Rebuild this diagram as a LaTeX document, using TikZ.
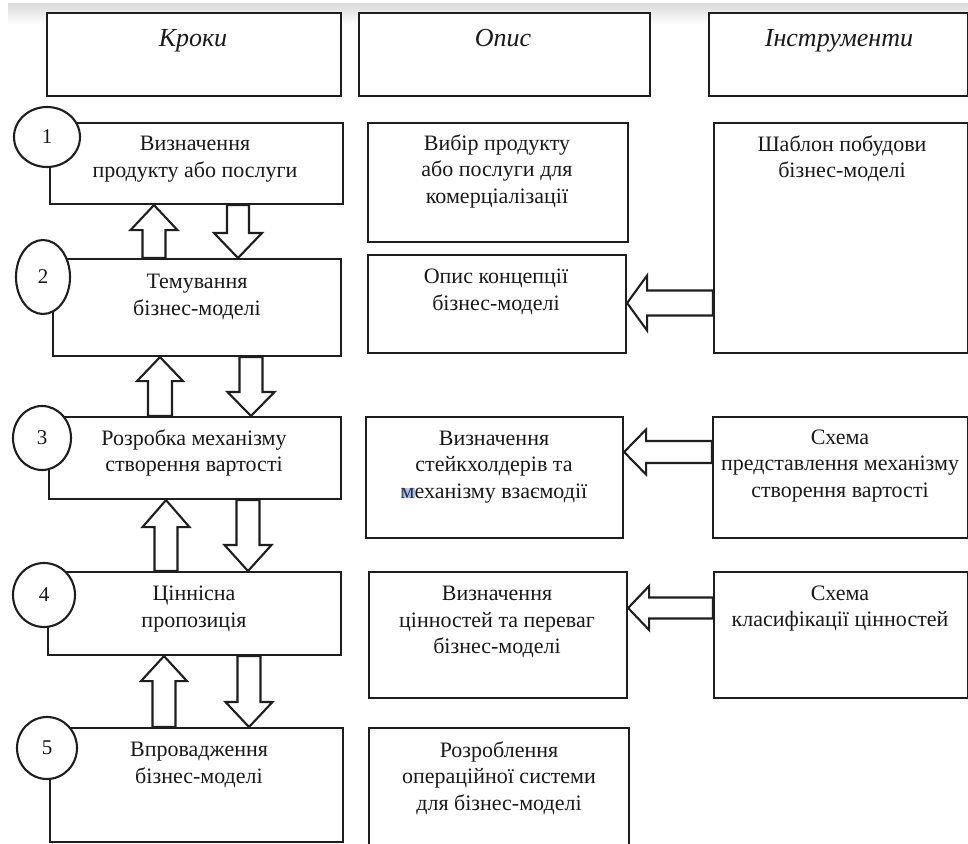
\documentclass[tikz,border=0pt]{standalone}
\usepackage{fontspec}
\setmainfont{Liberation Serif}
\usetikzlibrary{shapes.geometric,calc}
\definecolor{ln}{RGB}{30,30,30}
\definecolor{tx}{RGB}{25,25,25}
\definecolor{hlbg}{RGB}{176,196,222}
\definecolor{hlfg}{RGB}{30,50,100}
\tikzset{
 box/.style={draw=ln, line width=2.1pt, fill=white, rectangle, inner sep=0pt, anchor=north west},
 num/.style={draw=ln, line width=2.1pt, fill=white, ellipse, inner sep=0pt, font=\fontsize{21}{24}\selectfont, text=tx},
 txt/.style={align=center, inner sep=0pt, text=tx, font=\fontsize{22}{26.5}\selectfont},
 hdr/.style={inner sep=0pt, text=tx, anchor=base, font=\fontsize{26}{30}\selectfont\itshape},
 blk/.style={draw=ln, line width=2.1pt, fill=white, line join=miter},
}
\newcommand\bx[5]{\node[box, minimum width={#4-#2}, minimum height={#5-#3}] (#1) at (#2,#3) {};}
\newcommand\arrup[6]{%
 \draw[blk] let \p1=(#1.south), \p2=(#2.north) in
 ({(#3-#4)*1pt},\y2) -- ({(#3-#4)*1pt},{\y1-#6pt}) -- ({(#3-#5)*1pt},{\y1-#6pt}) -- ({#3pt},\y1) -- ({(#3+#5)*1pt},{\y1-#6pt}) -- ({(#3+#4)*1pt},{\y1-#6pt}) -- ({(#3+#4)*1pt},\y2) -- cycle;}
\newcommand\arrdn[6]{%
 \draw[blk] let \p1=(#1.south), \p2=(#2.north) in
 ({(#3-#4)*1pt},\y1) -- ({(#3-#4)*1pt},{\y2+#6pt}) -- ({(#3-#5)*1pt},{\y2+#6pt}) -- ({#3pt},\y2) -- ({(#3+#5)*1pt},{\y2+#6pt}) -- ({(#3+#4)*1pt},{\y2+#6pt}) -- ({(#3+#4)*1pt},\y1) -- cycle;}
\newcommand\arrlf[6]{%
 \draw[blk] let \p1=(#1.west), \p2=(#2.east) in
 (\x1,{-(#3-#4)*1pt}) -- ({\x2+#6pt},{-(#3-#4)*1pt}) -- ({\x2+#6pt},{-(#3-#5)*1pt}) -- (\x2,{-#3pt}) -- ({\x2+#6pt},{-(#3+#5)*1pt}) -- ({\x2+#6pt},{-(#3+#4)*1pt}) -- (\x1,{-(#3+#4)*1pt}) -- cycle;}
\newcommand\hlm{{\setlength{\fboxsep}{0pt}\colorbox{hlbg}{\textcolor{hlfg}{м}}}}
\begin{document}
\begin{tikzpicture}[x=1pt,y=-1pt]
\useasboundingbox (0,0) rectangle (968,843);
\clip (0,0) rectangle (968,843);
\fill[white] (0,0) rectangle (968,843);
\shade[top color=gray!28, bottom color=white] (8,4) rectangle (968,24);
% headers
\bx{h1}{46}{12}{340}{95}
\bx{h2}{358}{12}{649}{95}
\bx{h3}{708}{12}{967}{95}
\node[hdr] (hk) at (193,47) {Кроки};
\node[hdr] (ho) at (503,47) {Опис};
\node[hdr] (hi) at (839,47) {Інструменти};
% steps
\bx{b1}{49}{122}{342}{203}
\bx{b2}{52}{258}{340}{355}
\bx{b3}{48}{416}{340}{498}
\bx{b4}{47}{571}{340}{654}
\bx{b5}{49}{727}{342}{841}
% descriptions
\bx{m1}{367}{122}{627}{241}
\bx{m2}{367}{254}{625}{352}
\bx{m3}{365}{416}{622}{537}
\bx{m4}{368}{571}{626}{697}
\bx{m5}{368}{727}{628}{852}
% tools
\bx{r1}{713}{122}{967}{352}
\bx{r3}{712}{416}{967}{537}
\bx{r4}{713}{571}{967}{697}
% circles
\node[num, minimum width=66, minimum height=60] (c1) at (47,137) {1};
\node[num, minimum width=54, minimum height=74] (c2) at (43,277) {2};
\node[num, minimum width=58, minimum height=64] (c3) at (42,438) {3};
\node[num, minimum width=62, minimum height=64] (c4) at (44,595) {4};
\node[num, minimum width=60, minimum height=62] (c5) at (47,748) {5};
% texts
\node[txt] (t1) at (195,159) {Визначення\\продукту або послуги};
\node[txt] (t2) at (197,297) {Темування\\бізнес-моделі};
\node[txt] (t3) at (194,453) {Розробка механізму\\створення вартості};
\node[txt] (t4) at (194,609) {Ціннісна\\пропозиція};
\node[txt] (t5) at (199,765) {Впровадження\\бізнес-моделі};
\node[txt] (tm1) at (497,171) {Вибір продукту\\або послуги для\\комерціалізації};
\node[txt] (tm2) at (496,292) {Опис концепції\\бізнес-моделі};
\node[txt] (tm3) at (494,467) {Визначення\\стейкхолдерів та\\\hlm еханізму взаємодії};
\node[txt] (tm4) at (497,622) {Визначення\\цінностей та переваг\\бізнес-моделі};
\node[txt] (tm5) at (499,778) {Розроблення\\операційної системи\\для бізнес-моделі};
\node[txt] (tr1) at (842,159) {Шаблон побудови\\бізнес-моделі};
\node[txt] (tr3) at (840,466) {Схема\\представлення механізму\\створення вартості};
\node[txt] (tr4) at (840,608.5) {Схема\\класифікації цінностей};
% vertical block arrows
\arrup{b1}{b2}{154}{11.5}{23.5}{25}
\arrdn{b1}{b2}{238}{11}{24}{25}
\arrup{b2}{b3}{160}{12}{23}{24}
\arrdn{b2}{b3}{251}{11.5}{23.5}{24}
\arrup{b3}{b4}{166}{11.5}{23.5}{27}
\arrdn{b3}{b4}{248}{11.5}{23.5}{26}
\arrup{b4}{b5}{164}{11.5}{23}{25}
\arrdn{b4}{b5}{249}{11.5}{23.5}{25}
% horizontal block arrows
\arrlf{r1}{m2}{303}{12.5}{27.5}{20}
\arrlf{r3}{m3}{452}{11}{22.5}{22}
\arrlf{r4}{m4}{608}{10.5}{22}{21}
\end{tikzpicture}
\end{document}
